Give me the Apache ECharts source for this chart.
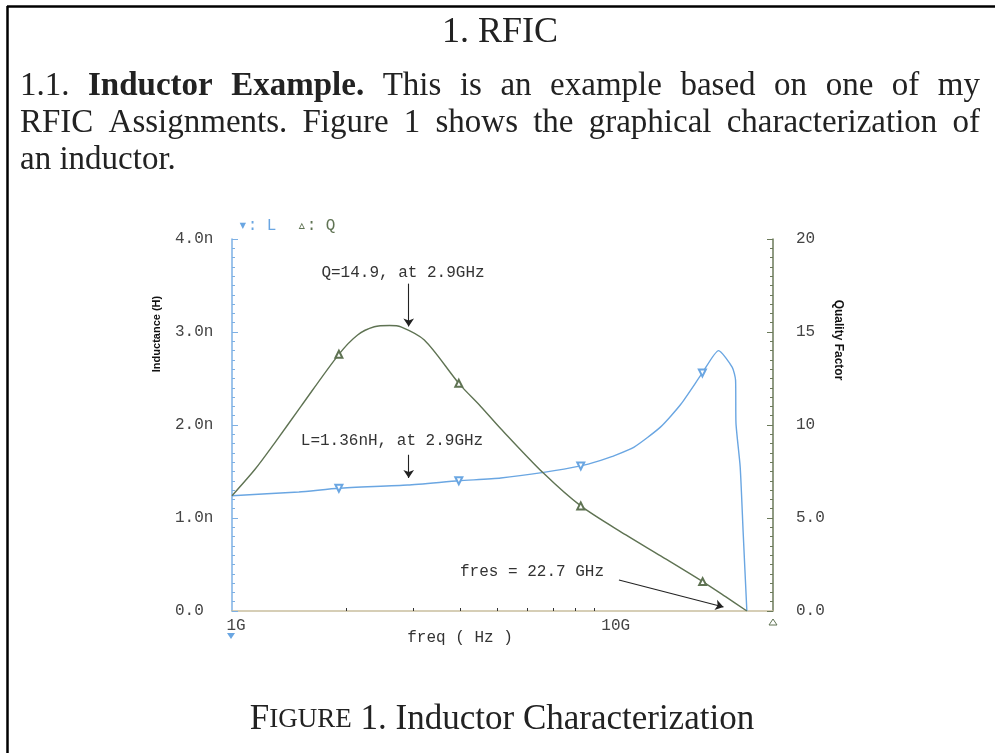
<!DOCTYPE html>
<html><head><meta charset="utf-8">
<script src="https://cdn.jsdelivr.net/npm/echarts@6/dist/echarts.min.js"></script>
<style>html,body{margin:0;padding:0;background:#fff}#c{width:995px;height:753px}</style>
</head><body><div id="c"></div>
<script>
// ---- data (frequency in GHz) ----
const freqL = [1.0, 1.5, 1.912, 2.9, 3.957, 5.105, 6.62, 8.29, 9.36, 10.0, 11.43, 13.46, 15.19, 17.33, 19.12, 20.78, 21.2, 21.25, 21.8, 22.2, 22.7];
const indL  = [1.24, 1.28, 1.32, 1.355, 1.40, 1.43, 1.49, 1.56, 1.62, 1.66, 1.76, 1.98, 2.22, 2.56, 2.80, 2.62, 2.48, 2.02, 1.55, 0.84, 0.0];
const freqQ = [1.0, 1.15, 1.292, 1.519, 1.912, 2.142, 2.37, 2.6, 2.785, 3.21, 3.957, 4.52, 5.105, 6.62, 8.29, 10.9, 13.46, 17.36, 19.95, 22.7];
const qual  = [6.2, 7.62, 9.0, 11.0, 13.8, 14.84, 15.28, 15.35, 15.28, 14.57, 12.24, 11.0, 9.8, 7.4, 5.65, 4.09, 2.96, 1.58, 0.77, 0.0];
const markerFreqsL = [1.912, 3.957, 8.29, 17.33];
const markerFreqsQ = [1.912, 3.957, 8.29, 17.36];
const xLabelValues = [1, 10];
const xLabelTexts = ['1G', '10G'];
const xMinorTicks = [2, 3, 4, 5, 6, 7, 8, 9];
const leftLabels = {0: '0.0', 1: '1.0n', 2: '2.0n', 3: '3.0n', 4: '4.0n'};
const rightLabels = {0: '0.0', 5: '5.0', 10: '10', 15: '15', 20: '20'};

const blue = '#6aa6e2', green = '#5f7353', tan = '#c9bf9f';
const mono = '"Liberation Mono", "DejaVu Sans Mono", monospace';
const serif = '"Liberation Serif", "DejaVu Serif", serif';
const ink = '#222';

const chart = echarts.init(document.getElementById('c'), null, {renderer: 'canvas'});

// justify words of a document line
const ctx = document.createElement('canvas').getContext('2d');
function justify(words, x0, x1, y, size) {
  const items = words.map(w => {
    const bold = w.startsWith('*');
    const t = bold ? w.slice(1) : w;
    ctx.font = (bold ? 'bold ' : '') + size + 'px ' + serif;
    return {t, bold, w: ctx.measureText(t).width};
  });
  const total = items.reduce((s, i) => s + i.w, 0);
  const gap = x1 === null ? size * 0.25 : (x1 - x0 - total) / (items.length - 1);
  let x = x0;
  return items.map(it => {
    const el = {type: 'text', x: x, y: y, silent: true, style: {
      text: it.t, fontSize: size, fontFamily: serif, fontWeight: it.bold ? 'bold' : 'normal',
      fill: ink, textAlign: 'left', align: 'left', textVerticalAlign: 'middle', verticalAlign: 'middle'}};
    x += it.w + gap;
    return el;
  });
}
function txt(x, y, text, opts) {
  return Object.assign({type: 'text', x: x, y: y, silent: true, style: Object.assign({
    text: text, fontSize: 16, fontFamily: mono, fill: '#333',
    textAlign: 'center', align: 'center', textVerticalAlign: 'middle', verticalAlign: 'middle'}, opts && opts.style)},
    opts && opts.el);
}

const graphics = [
  {type: 'line', shape: {x1: 7, y1: 6.5, x2: 995, y2: 6.5}, style: {stroke: '#000', lineWidth: 2.5}, silent: true},
  {type: 'line', shape: {x1: 7.5, y1: 6, x2: 7.5, y2: 753}, style: {stroke: '#000', lineWidth: 2.5}, silent: true},
  txt(500, 33, '1. RFIC', {style: {fontFamily: serif, fontSize: 36, fill: ink}}),
  ...justify(['1.1.', '*Inductor', '*Example.', 'This', 'is', 'an', 'example', 'based', 'on', 'one', 'of', 'my'], 20, 980, 86, 33),
  ...justify(['RFIC', 'Assignments.', 'Figure', '1', 'shows', 'the', 'graphical', 'characterization', 'of'], 20, 980, 123, 33),
  ...justify(['an', 'inductor.'], 20, null, 160, 33),
  txt(502, 720, '{a|F}{b|IGURE}{a| 1. Inductor Characterization}', {style: {fontFamily: serif, fill: ink,
    rich: {a: {fontSize: 35, fontFamily: serif, fill: ink}, b: {fontSize: 27, fontFamily: serif, fill: ink}}}}),
  // legend
  txt(238, 226, '\u25BE: L', {style: {fill: blue, textAlign: 'left', align: 'left', fontSize: 16}}),
  txt(297, 226, '\u25B5: Q', {style: {fill: green, textAlign: 'left', align: 'left', fontSize: 16}}),
  // axis titles
  txt(157, 334, 'Inductance (H)', {style: {fontFamily: '"Liberation Sans", Arial, sans-serif', fontWeight: 'bold', fontSize: 11, fill: '#111'}, el: {rotation: Math.PI / 2}}),
  txt(838, 340, 'Quality Factor', {style: {fontFamily: '"Liberation Sans", Arial, sans-serif', fontWeight: 'bold', fontSize: 12, fill: '#111'}, el: {rotation: -Math.PI / 2}}),
  txt(460, 638, 'freq ( Hz )', {style: {fontSize: 16}}),
  // annotations
  txt(403, 273, 'Q=14.9, at 2.9GHz', {style: {fontSize: 16}}),
  txt(392, 441, 'L=1.36nH, at 2.9GHz', {style: {fontSize: 16}}),
  txt(460, 572, 'fres = 22.7 GHz', {style: {fontSize: 16, textAlign: 'left', align: 'left'}}),
  // axis end markers
  {type: 'polygon', shape: {points: [[227, 633], [235, 633], [231, 639]]}, style: {fill: blue}, silent: true},
  {type: 'polygon', shape: {points: [[769, 625], [777, 625], [773, 619]]}, style: {fill: '#fff', stroke: green, lineWidth: 1}, silent: true}
];

const arrowStyle = {color: '#222', width: 1.1, type: 'solid'};
const option = {
  animation: false,
  backgroundColor: '#fff',
  grid: {left: 232, right: 222, top: 239, bottom: 142, containLabel: false},
  xAxis: {
    type: 'log', logBase: 10, min: 1, max: 26.6,
    axisLine: {show: true, lineStyle: {color: tan, width: 1.5}},
    axisTick: {show: true, inside: true, length: 3, customValues: xMinorTicks, lineStyle: {color: '#333', width: 1}},
    minorTick: {show: false},
    splitLine: {show: false},
    axisLabel: {show: true, customValues: xLabelValues, margin: 7, fontFamily: mono, fontSize: 16, color: '#444',
      padding: [0, 0, 0, 8],
      formatter: v => xLabelTexts[xLabelValues.indexOf(Math.round(v))] || ''}
  },
  yAxis: [
    {type: 'value', min: 0, max: 4, interval: 1, position: 'left',
      axisLine: {show: true, onZero: false, lineStyle: {color: '#7db0e4', width: 1.5}},
      axisTick: {show: true, inside: true, length: 6, lineStyle: {color: '#7db0e4'}},
      minorTick: {show: true, splitNumber: 10, length: 3, lineStyle: {color: '#7db0e4'}},
      splitLine: {show: false},
      axisLabel: {margin: 57, align: 'left', fontFamily: mono, fontSize: 16, color: '#444', padding: [0, 0, 10, 0],
        formatter: v => leftLabels[v]}},
    {type: 'value', min: 0, max: 20, interval: 5, position: 'right',
      axisLine: {show: true, onZero: false, lineStyle: {color: '#6b7a5a', width: 1.5}},
      axisTick: {show: true, inside: true, length: 6, lineStyle: {color: '#6b7a5a'}},
      minorTick: {show: true, splitNumber: 10, length: 3, lineStyle: {color: '#6b7a5a'}},
      splitLine: {show: false},
      axisLabel: {margin: 23, align: 'left', fontFamily: mono, fontSize: 16, color: '#444', padding: [0, 0, 10, 0],
        formatter: v => rightLabels[v]}}
  ],
  series: [
    {name: 'L', type: 'line', yAxisIndex: 0, smooth: 0.2,
      data: freqL.map((f, i) => [f, indL[i]]),
      color: blue, lineStyle: {color: blue, width: 1.4},
      symbol: v => markerFreqsL.includes(v[0]) ? 'emptyTriangle' : 'none',
      symbolSize: 7, symbolRotate: 180, showSymbol: true,
      itemStyle: {color: blue, borderColor: blue, borderWidth: 1},
      markLine: {silent: true, symbol: ['none', 'arrow'], symbolSize: 8, label: {show: false},
        lineStyle: arrowStyle, data: [[{coord: [2.92, 1.68]}, {coord: [2.92, 1.43]}]]}},
    {name: 'Q', type: 'line', yAxisIndex: 1, smooth: 0.3,
      data: freqQ.map((f, i) => [f, qual[i]]),
      color: green, lineStyle: {color: green, width: 1.4},
      symbol: v => markerFreqsQ.includes(v[0]) ? 'emptyTriangle' : 'none',
      symbolSize: 7, showSymbol: true,
      itemStyle: {color: green, borderColor: green, borderWidth: 1},
      markLine: {silent: true, symbol: ['none', 'arrow'], symbolSize: 8, label: {show: false},
        lineStyle: arrowStyle, data: [
          [{coord: [2.92, 17.6]}, {coord: [2.92, 15.3]}],
          [{coord: [10.45, 1.67]}, {coord: [19.7, 0.22]}]
        ]}}
  ],
  graphic: {elements: graphics}
};
chart.setOption(option);
</script></body></html>
